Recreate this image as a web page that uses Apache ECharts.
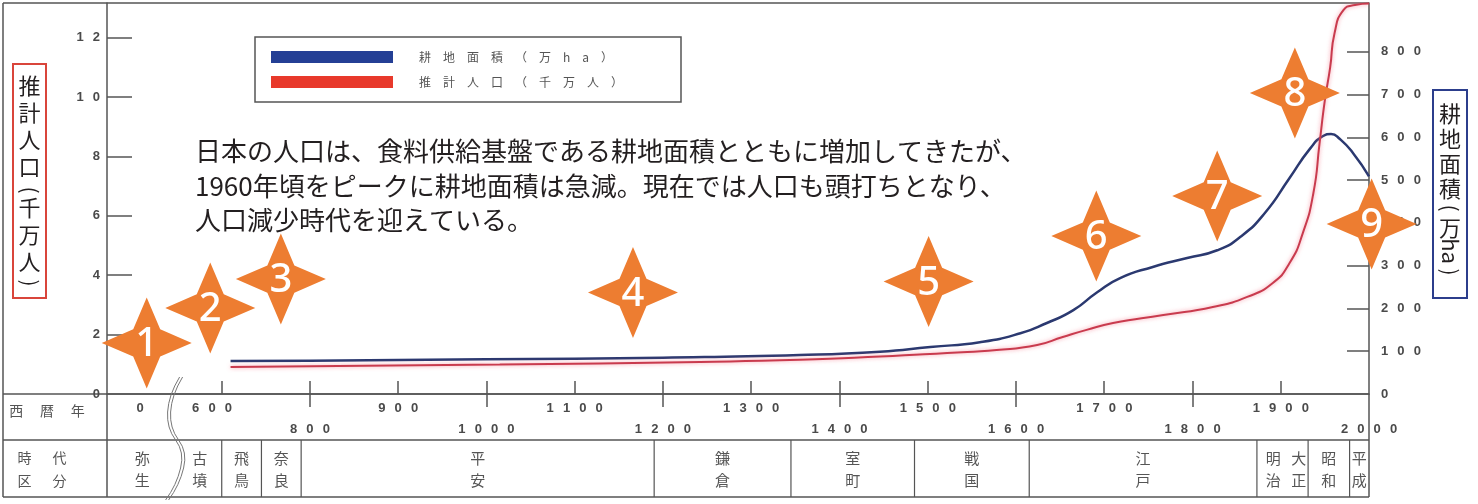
<!DOCTYPE html>
<html><head><meta charset="utf-8">
<script src="https://cdn.jsdelivr.net/npm/echarts@6/dist/echarts.min.js"></script>
<style>html,body{margin:0;padding:0;background:#fff}#c{width:1478px;height:504px}</style>
</head><body><div id="c"></div>
<script>
// ---- data ----
const landName = '耕地面積（万ha）';
const popName = '推計人口（千万人）';
const landYears = [710, 800, 1000, 1200, 1355, 1446, 1503, 1559, 1605, 1635, 1665, 1692, 1718, 1755, 1794, 1828, 1854, 1882, 1910, 1933, 1948, 1957, 1967, 1982, 2000];
const landArea  = [77, 78, 81, 85, 91, 99, 110, 121, 142, 166, 196, 238, 271, 297, 318, 336, 367, 423, 505, 573, 603, 608, 596, 563, 509];
const popYears  = [710, 1015, 1242, 1355, 1446, 1522, 1578, 1624, 1653, 1680, 1710, 1767, 1823, 1862, 1891, 1910, 1925, 1937, 1944, 1950, 1956, 1961, 1971, 1984, 2000];
const popValues = [0.91, 0.99, 1.08, 1.15, 1.26, 1.38, 1.48, 1.65, 1.92, 2.16, 2.39, 2.66, 2.93, 3.27, 3.74, 4.41, 5.42, 6.77, 8.45, 9.90, 11.0, 12.16, 12.93, 13.10, 13.15];

const yearTicks = [700, 800, 900, 1000, 1100, 1200, 1300, 1400, 1500, 1600, 1700, 1800, 1900];
const yearLabels = [800, 900, 1000, 1100, 1200, 1300, 1400, 1500, 1600, 1700, 1800, 1900, 2000];
const lowerRowTicks = [800, 1000, 1200, 1400, 1600, 1800];
const brokenLabels = ['0', '600'];
const popTicks = [0, 2, 4, 6, 8, 10, 12];
const landTicks = [0, 100, 200, 300, 400, 500, 600, 700, 800];

const periodNames  = ['弥生', '古墳', '飛鳥', '奈良', '平安', '鎌倉', '室町', '戦国', '江戸', '明治', '大正', '昭和', '平成'];
const periodStarts = [570, 650, 700, 745, 790, 1190, 1345, 1485, 1615, 1873, 1910, 1931, 1978];
const periodEnds   = [650, 700, 745, 790, 1190, 1345, 1485, 1615, 1873, 1910, 1931, 1978, 2000];
const tableDividers = [700, 745, 790, 1190, 1345, 1485, 1615, 1873, 1931, 1978];
const breakYear = 650;

const starLabels = ['1', '2', '3', '4', '5', '6', '7', '8', '9'];
const starYears  = [615, 687, 767, 1166, 1501, 1691, 1828, 1916, 2003];
const starValues = [1.72, 2.90, 3.87, 3.42, 3.79, 5.32, 6.67, 10.14, 5.73];

const noteText = [
  '日本の人口は、食料供給基盤である耕地面積とともに増加してきたが、',
  '1960年頃をピークに耕地面積は急減。現在では人口も頭打ちとなり、',
  '人口減少時代を迎えている。'
];

// ---- rendering ----
const X_MIN = 570, X_MAX = 2000;
const AX = '#555';
const spaced = s => String(s).split('').join('\u2002\u2009');
const labelFont = {fontSize: 13, color: '#4a4a4a', fontFamily: 'Liberation Sans, DejaVu Sans, sans-serif', fontWeight: 'bold'};
const jp = '"Noto Sans CJK JP", "Noto Sans CJK SC", sans-serif';

const chart = echarts.init(document.getElementById('c'), null, {renderer: 'canvas'});

const line = (x1, y1, x2, y2) => ({type: 'line', silent: true, shape: {x1, y1, x2, y2}, style: {stroke: AX, lineWidth: 1.5}});
const rotParen = (ch, x, y) => ({type: 'text', silent: true, x: x, y: y, rotation: -Math.PI / 2,
  style: {text: ch, align: 'center', verticalAlign: 'middle', fontSize: 21, fontFamily: jp, fill: '#231f20'}});

chart.setOption({
  animation: false,
  backgroundColor: '#fff',
  grid: [
    {left: 107, right: 109, top: 3, bottom: 110},
    {left: 107, right: 109, top: 440, height: 57}
  ],
  legend: {
    left: 255, top: 37, orient: 'vertical', icon: 'rect',
    itemWidth: 122, itemHeight: 12, itemGap: 13,
    padding: [14, 58, 14, 16], borderColor: '#555', borderWidth: 1.5,
    selectedMode: false,
    formatter: n => n.split('').join('\u2003'),
    textStyle: {fontSize: 12, color: '#555', fontFamily: jp, padding: [0, 0, 0, 21], lineHeight: 12},
    data: [{name: landName, itemStyle: {color: '#243f95'}}, {name: popName, itemStyle: {color: '#e8392b'}}]
  },
  xAxis: [
    {
      type: 'value', gridIndex: 0, min: X_MIN, max: X_MAX, position: 'bottom',
      axisLine: {show: true, onZero: false, lineStyle: {color: AX, width: 1.5}},
      axisTick: {show: true, inside: true, length: 13, customValues: yearTicks, lineStyle: {color: AX, width: 1.5}},
      axisLabel: Object.assign({
        customValues: yearLabels, margin: 4, lineHeight: 21,
        formatter: v => ((v / 100) % 2 === 0 ? '\n' : '') + spaced(v)
      }, labelFont),
      splitLine: {show: false}
    },
    {
      type: 'value', gridIndex: 0, min: X_MIN, max: X_MAX, position: 'bottom', offset: 0,
      axisLine: {show: false, onZero: false},
      axisTick: {show: true, inside: false, length: 13, customValues: lowerRowTicks, lineStyle: {color: AX, width: 1.5}},
      axisLabel: {show: false}, splitLine: {show: false}
    },
    {type: 'value', gridIndex: 1, min: X_MIN, max: X_MAX, show: false}
  ],
  yAxis: [
    {
      type: 'value', gridIndex: 0, position: 'left', min: 0, max: 13.17,
      axisLine: {show: true, lineStyle: {color: AX, width: 1.5}},
      axisTick: {show: true, inside: true, length: 25, customValues: popTicks.slice(1), lineStyle: {color: AX, width: 1.5}},
      axisLabel: Object.assign({customValues: popTicks, margin: 7, formatter: v => spaced(v)}, labelFont),
      splitLine: {show: false}
    },
    {
      type: 'value', gridIndex: 0, position: 'right', min: 0, max: 914,
      axisLine: {show: true, lineStyle: {color: AX, width: 1.5}},
      axisTick: {show: true, inside: true, length: 22, customValues: landTicks.slice(1), lineStyle: {color: AX, width: 1.5}},
      axisLabel: Object.assign({customValues: landTicks, margin: 12, formatter: v => spaced(v)}, labelFont),
      splitLine: {show: false}
    },
    {type: 'value', gridIndex: 1, min: 0, max: 1, show: false}
  ],
  series: [
    {
      name: landName, type: 'line', xAxisIndex: 0, yAxisIndex: 1,
      data: landYears.map((y, i) => [y, landArea[i]]),
      showSymbol: false, smooth: 0.55,
      color: '#2b3970', lineStyle: {width: 2.5, color: '#2b3970'}, z: 3, silent: true
    },
    {
      name: popName, type: 'line', xAxisIndex: 0, yAxisIndex: 0,
      data: popYears.map((y, i) => [y, popValues[i]]),
      showSymbol: false, smooth: 0.55,
      color: '#c93b4e', lineStyle: {width: 2, color: '#c93b4e', shadowColor: 'rgba(245,110,130,0.7)', shadowBlur: 4}, z: 3, silent: true
    },
    {
      name: 'stars', type: 'scatter', xAxisIndex: 0, yAxisIndex: 0, clip: false, silent: true,
      symbol: 'path://M0,-100L30,-30L100,0L30,30L0,100L-30,30L-100,0L-30,-30Z',
      symbolSize: [90, 91],
      itemStyle: {color: '#ed7d31', opacity: 1},
      label: {show: true, position: 'inside', formatter: '{b}', color: '#fff', fontSize: 40, fontFamily: 'Noto Sans, Open Sans, sans-serif', fontWeight: 500, offset: [0, 2]},
      data: starLabels.map((n, i) => ({name: n, value: [starYears[i], starValues[i]]})),
      z: 10
    },
    {
      name: 'break', type: 'custom', xAxisIndex: 0, yAxisIndex: 0, clip: false, silent: true,
      data: [[breakYear, 0]],
      renderItem: (params, api) => {
        const x = api.coord([api.value(0), 0])[0];
        const d = 'M2,377 Q-9,395 -10,412 Q-11,428 -2,440 Q7,452 3,468 Q-1,485 -12,500';
        return {type: 'group', x: x, y: 0, children: [
          {type: 'path', shape: {pathData: d}, style: {stroke: '#777', lineWidth: 1, fill: null}},
          {type: 'path', x: 3, shape: {pathData: d}, style: {stroke: '#777', lineWidth: 1, fill: null}}
        ]};
      },
      z: 5
    },
    {
      name: 'periods', type: 'custom', xAxisIndex: 2, yAxisIndex: 2, clip: false, silent: true,
      data: periodNames.map((n, i) => [periodStarts[i], periodEnds[i], 0.5]),
      encode: {x: [0, 1], y: 2},
      renderItem: (params, api) => {
        const x0 = api.coord([api.value(0), 0.5])[0];
        const x1 = api.coord([api.value(1), 0.5])[0];
        const cs = params.coordSys;
        return {type: 'text', style: {
          text: periodNames[params.dataIndex].split('').join('\n'),
          x: (x0 + x1) / 2, y: cs.y + cs.height / 2 + 1,
          align: 'center', verticalAlign: 'middle', lineHeight: 22,
          fontSize: 15, fontFamily: jp, fill: '#555'
        }};
      }
    },
    {
      name: 'dividers', type: 'custom', xAxisIndex: 2, yAxisIndex: 2, clip: false, silent: true,
      data: tableDividers.map(v => [v, 0.5]),
      encode: {x: 0, y: 1},
      renderItem: (params, api) => {
        const x = api.coord([api.value(0), 0.5])[0];
        const cs = params.coordSys;
        return {type: 'line', shape: {x1: x, y1: cs.y, x2: x, y2: cs.y + cs.height}, style: {stroke: AX, lineWidth: 1.2}};
      }
    }
  ],
  graphic: [
    line(3, 3, 1369, 3), line(3, 3, 3, 497),
    line(3, 394, 1369, 394), line(3, 440, 1369, 440), line(3, 497, 1369, 497),
    line(107, 394, 107, 497), line(1369, 394, 1369, 497),
    {type: 'text', silent: true, style: {text: '西\u2003\u2009暦\u2003\u2009年', x: 47, y: 411, align: 'center', verticalAlign: 'middle', fontSize: 14, fontFamily: jp, fill: '#555'}},
    {type: 'text', silent: true, style: {text: '時\u2003\u2002代\n区\u2003\u2002分', x: 42, y: 469, align: 'center', verticalAlign: 'middle', lineHeight: 23, fontSize: 14, fontFamily: jp, fill: '#555'}},
    {type: 'text', silent: true, style: Object.assign({text: spaced(brokenLabels[0]), x: 140, y: 408, align: 'center', verticalAlign: 'middle', fill: '#4a4a4a'}, {fontSize: 13, fontFamily: 'Liberation Sans, sans-serif', fontWeight: 'bold'})},
    {type: 'text', silent: true, style: Object.assign({text: spaced(brokenLabels[1]), x: 212, y: 408, align: 'center', verticalAlign: 'middle', fill: '#4a4a4a'}, {fontSize: 13, fontFamily: 'Liberation Sans, sans-serif', fontWeight: 'bold'})},
    {type: 'text', silent: true, style: {text: noteText.join('\n'), x: 195, y: 134, fontSize: 26, lineHeight: 34.5, fontFamily: jp, fill: '#231f20'}},
    {type: 'rect', silent: true, shape: {x: 13, y: 64, width: 33, height: 234}, style: {fill: '#fff', stroke: '#d9453b', lineWidth: 2}},
    {type: 'text', silent: true, style: {
      text: '{c|推}\n{c|計}\n{c|人}\n{c|口}\n{p| }\n{c|千}\n{c|万}\n{c|人}\n{p| }',
      x: 29.5, y: 72, align: 'center', verticalAlign: 'top',
      rich: {c: {lineHeight: 27, fontSize: 22, fontFamily: jp, fill: '#231f20'}, p: {lineHeight: 14, fontSize: 14}}
    }},
    rotParen('(', 29.5, 190), rotParen(')', 29.5, 283),
    {type: 'rect', silent: true, shape: {x: 1433, y: 90, width: 34, height: 208}, style: {fill: '#fff', stroke: '#2c3e8c', lineWidth: 2}},
    {type: 'text', silent: true, style: {
      text: '{c|耕}\n{c|地}\n{c|面}\n{c|積}\n{p| }\n{c|万}\n{h| }\n{p| }',
      x: 1450, y: 101, align: 'center', verticalAlign: 'top',
      rich: {c: {lineHeight: 25, fontSize: 22, fontFamily: jp, fill: '#231f20'}, p: {lineHeight: 14, fontSize: 14}, h: {lineHeight: 22, fontSize: 22}}
    }},
    rotParen('(', 1450, 208), rotParen(')', 1450, 272),
    {type: 'text', silent: true, x: 1450, y: 251, rotation: -Math.PI / 2, style: {text: 'ha', align: 'center', verticalAlign: 'middle', fontSize: 22, fontFamily: jp, fill: '#231f20'}}
  ]
});
</script>
</body></html>
